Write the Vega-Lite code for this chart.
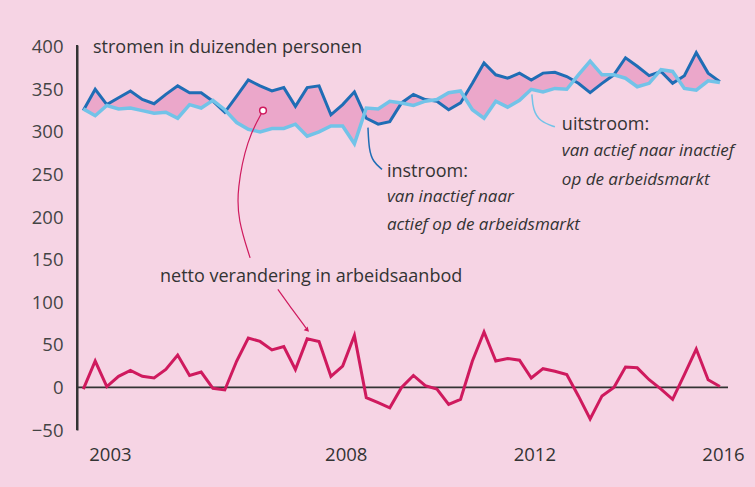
{
  "$schema": "https://vega.github.io/schema/vega-lite/v6.json",
  "width": 651,
  "height": 385,
  "autosize": {"type": "none"},
  "padding": {"left": 77, "top": 45, "right": 27, "bottom": 57},
  "background": "#F6D4E4",
  "config": {"view": {"stroke": null}, "font": "Open Sans"},
  "datasets": {
    "flows": [
      {"d": "2002-10-01", "instroom": 325, "uitstroom": 327, "netto": -2},
      {"d": "2003-01-01", "instroom": 350, "uitstroom": 319, "netto": 31},
      {"d": "2003-04-01", "instroom": 332, "uitstroom": 331, "netto": 1},
      {"d": "2003-07-01", "instroom": 340, "uitstroom": 327, "netto": 13},
      {"d": "2003-10-01", "instroom": 348, "uitstroom": 328, "netto": 20},
      {"d": "2004-01-01", "instroom": 338, "uitstroom": 325, "netto": 13},
      {"d": "2004-04-01", "instroom": 333, "uitstroom": 322, "netto": 11},
      {"d": "2004-07-01", "instroom": 344, "uitstroom": 323, "netto": 21},
      {"d": "2004-10-01", "instroom": 354, "uitstroom": 316, "netto": 38},
      {"d": "2005-01-01", "instroom": 346, "uitstroom": 332, "netto": 14},
      {"d": "2005-04-01", "instroom": 346, "uitstroom": 328, "netto": 18},
      {"d": "2005-07-01", "instroom": 336, "uitstroom": 337, "netto": -1},
      {"d": "2005-10-01", "instroom": 323, "uitstroom": 326, "netto": -3},
      {"d": "2006-01-01", "instroom": 342, "uitstroom": 311, "netto": 31},
      {"d": "2006-04-01", "instroom": 361, "uitstroom": 303, "netto": 58},
      {"d": "2006-07-01", "instroom": 354, "uitstroom": 300, "netto": 54},
      {"d": "2006-10-01", "instroom": 348, "uitstroom": 304, "netto": 44},
      {"d": "2007-01-01", "instroom": 352, "uitstroom": 304, "netto": 48},
      {"d": "2007-04-01", "instroom": 330, "uitstroom": 309, "netto": 21},
      {"d": "2007-07-01", "instroom": 352, "uitstroom": 295, "netto": 57},
      {"d": "2007-10-01", "instroom": 354, "uitstroom": 300, "netto": 54},
      {"d": "2008-01-01", "instroom": 320, "uitstroom": 307, "netto": 13},
      {"d": "2008-04-01", "instroom": 332, "uitstroom": 307, "netto": 25},
      {"d": "2008-07-01", "instroom": 347, "uitstroom": 286, "netto": 61},
      {"d": "2008-10-01", "instroom": 316, "uitstroom": 328, "netto": -12},
      {"d": "2009-01-01", "instroom": 309, "uitstroom": 327, "netto": -18},
      {"d": "2009-04-01", "instroom": 312, "uitstroom": 336, "netto": -24},
      {"d": "2009-07-01", "instroom": 334, "uitstroom": 334, "netto": 0},
      {"d": "2009-10-01", "instroom": 344, "uitstroom": 331, "netto": 14},
      {"d": "2010-01-01", "instroom": 338, "uitstroom": 336, "netto": 2},
      {"d": "2010-04-01", "instroom": 336, "uitstroom": 338, "netto": -2},
      {"d": "2010-07-01", "instroom": 326, "uitstroom": 346, "netto": -20},
      {"d": "2010-10-01", "instroom": 334, "uitstroom": 348, "netto": -14},
      {"d": "2011-01-01", "instroom": 357, "uitstroom": 326, "netto": 31},
      {"d": "2011-04-01", "instroom": 381, "uitstroom": 316, "netto": 65},
      {"d": "2011-07-01", "instroom": 367, "uitstroom": 336, "netto": 31},
      {"d": "2011-10-01", "instroom": 363, "uitstroom": 329, "netto": 34},
      {"d": "2012-01-01", "instroom": 369, "uitstroom": 337, "netto": 32},
      {"d": "2012-04-01", "instroom": 361, "uitstroom": 350, "netto": 11},
      {"d": "2012-07-01", "instroom": 369, "uitstroom": 347, "netto": 22},
      {"d": "2012-10-01", "instroom": 370, "uitstroom": 351, "netto": 19},
      {"d": "2013-01-01", "instroom": 365, "uitstroom": 350, "netto": 15},
      {"d": "2013-04-01", "instroom": 357, "uitstroom": 367, "netto": -10},
      {"d": "2013-07-01", "instroom": 346, "uitstroom": 383, "netto": -37},
      {"d": "2013-10-01", "instroom": 357, "uitstroom": 367, "netto": -10},
      {"d": "2014-01-01", "instroom": 367, "uitstroom": 367, "netto": 0},
      {"d": "2014-04-01", "instroom": 387, "uitstroom": 363, "netto": 24},
      {"d": "2014-07-01", "instroom": 377, "uitstroom": 353, "netto": 23},
      {"d": "2014-10-01", "instroom": 366, "uitstroom": 357, "netto": 9},
      {"d": "2015-01-01", "instroom": 371, "uitstroom": 373, "netto": -2},
      {"d": "2015-04-01", "instroom": 357, "uitstroom": 371, "netto": -14},
      {"d": "2015-07-01", "instroom": 366, "uitstroom": 351, "netto": 15},
      {"d": "2015-10-01", "instroom": 393, "uitstroom": 349, "netto": 45},
      {"d": "2016-01-01", "instroom": 369, "uitstroom": 360, "netto": 9},
      {"d": "2016-04-01", "instroom": 359, "uitstroom": 358, "netto": 1}
    ],
    "guides": [
      {"g": "zero", "d": "2002-08-13", "v": 0},
      {"g": "zero", "d": "2009-07-01", "v": 0.02},
      {"g": "zero", "d": "2016-06-03", "v": 0},
      {"g": "axis", "d": "2002-08-13", "v": -50},
      {"g": "axis", "d": "2002-08-14", "v": 200},
      {"g": "axis", "d": "2002-08-13", "v": 402}
    ],
    "connectors": [
      {"c": "in", "d": "2008-10-14", "v": 305},
      {"c": "in", "d": "2008-10-22", "v": 279},
      {"c": "in", "d": "2008-11-22", "v": 265},
      {"c": "in", "d": "2009-01-31", "v": 256},
      {"c": "uit", "d": "2012-04-06", "v": 344},
      {"c": "uit", "d": "2012-04-14", "v": 326},
      {"c": "uit", "d": "2012-06-07", "v": 312},
      {"c": "uit", "d": "2012-10-01", "v": 306},
      {"c": "netto1", "d": "2006-07-24", "v": 325},
      {"c": "netto1", "d": "2006-03-21", "v": 291},
      {"c": "netto1", "d": "2006-01-04", "v": 232},
      {"c": "netto1", "d": "2006-01-11", "v": 197},
      {"c": "netto1", "d": "2006-04-15", "v": 152},
      {"c": "netto2", "d": "2006-11-16", "v": 115},
      {"c": "netto2", "d": "2007-03-05", "v": 92},
      {"c": "netto2", "d": "2007-06-21", "v": 70}
    ],
    "notes": [
      {"d": "2002-12-15", "v": 399, "text": "stromen in duizenden personen"},
      {"d": "2004-05-17", "v": 130, "text": "netto verandering in arbeidsaanbod"},
      {"d": "2009-03-10", "v": 253, "text": "instroom:"},
      {"d": "2012-11-24", "v": 308, "text": "uitstroom:"}
    ],
    "italics": [
      {"d": "2009-03-10", "v": 223, "text": "van inactief naar"},
      {"d": "2009-03-10", "v": 191, "text": "actief op de arbeidsmarkt"},
      {"d": "2012-11-24", "v": 278, "text": "van actief naar inactief"},
      {"d": "2012-11-24", "v": 244, "text": "op de arbeidsmarkt"}
    ]
  },
  "layer": [
    {
      "data": {"name": "flows"},
      "mark": {"type": "area", "color": "#EBA7CA", "opacity": 1},
      "encoding": {
        "x": {
          "field": "d", "type": "temporal", "title": null,
          "scale": {"domain": [{"year": 2002, "month": 8, "date": 13, "utc": true}, {"year": 2016, "month": 6, "date": 3, "utc": true}]},
          "axis": {
            "values": [
              {"year": 2003, "month": 4, "date": 25, "utc": true},
              {"year": 2008, "month": 4, "date": 25, "utc": true},
              {"year": 2012, "month": 4, "date": 25, "utc": true},
              {"year": 2016, "month": 4, "date": 25, "utc": true}
            ],
            "format": "%Y", "ticks": false, "domain": false, "grid": false,
            "labelPadding": 15, "labelFontSize": 18.5, "labelColor": "#333333",
            "labelFlush": false, "labelOverlap": false, "labelFont": "Open Sans"
          }
        },
        "y": {
          "field": "instroom", "type": "quantitative", "title": null,
          "scale": {"domain": [-50, 402], "nice": false, "zero": false},
          "axis": {
            "values": [-50, 0, 50, 100, 150, 200, 250, 300, 350, 400],
            "ticks": false, "grid": false, "domain": true,
            "domainColor": "#333333", "domainWidth": 2,
            "labelPadding": 14,
            "labelFontSize": 18.5, "labelColor": "#444444", "labelFont": "Open Sans"
          }
        },
        "y2": {"field": "uitstroom"}
      }
    },
    {
      "data": {"name": "guides"},
      "transform": [{"filter": "datum.g === 'axis'"}],
      "mark": {"type": "line", "stroke": "#333333", "strokeWidth": 2},
      "encoding": {
        "x": {"field": "d", "type": "temporal", "title": null},
        "y": {"field": "v", "type": "quantitative", "title": null},
        "order": {"value": null}
      }
    },
    {
      "data": {"name": "guides"},
      "transform": [{"filter": "datum.g === 'zero'"}],
      "mark": {"type": "line", "stroke": "#333333", "strokeWidth": 1.8},
      "encoding": {
        "x": {"field": "d", "type": "temporal", "title": null},
        "y": {"field": "v", "type": "quantitative", "title": null}
      }
    },
    {
      "data": {"name": "flows"},
      "mark": {"type": "line", "color": "#1F6DB5", "strokeWidth": 3, "strokeJoin": "miter"},
      "encoding": {
        "x": {"field": "d", "type": "temporal", "title": null},
        "y": {"field": "instroom", "type": "quantitative", "title": null}
      }
    },
    {
      "data": {"name": "flows"},
      "mark": {"type": "line", "color": "#72C3E8", "strokeWidth": 3.5, "strokeJoin": "miter"},
      "encoding": {
        "x": {"field": "d", "type": "temporal", "title": null},
        "y": {"field": "uitstroom", "type": "quantitative", "title": null}
      }
    },
    {
      "data": {"name": "flows"},
      "mark": {"type": "line", "color": "#CF1A5E", "strokeWidth": 3},
      "encoding": {
        "x": {"field": "d", "type": "temporal", "title": null},
        "y": {"field": "netto", "type": "quantitative", "title": null}
      }
    },
    {
      "data": {"name": "connectors"},
      "transform": [{"filter": "datum.c === 'in'"}],
      "mark": {"type": "line", "color": "#1F6DB5", "strokeWidth": 1.5, "interpolate": "basis"},
      "encoding": {
        "x": {"field": "d", "type": "temporal", "title": null},
        "y": {"field": "v", "type": "quantitative", "title": null},
        "order": {"value": null}
      }
    },
    {
      "data": {"name": "connectors"},
      "transform": [{"filter": "datum.c === 'uit'"}],
      "mark": {"type": "line", "color": "#72C3E8", "strokeWidth": 1.5, "interpolate": "basis"},
      "encoding": {
        "x": {"field": "d", "type": "temporal", "title": null},
        "y": {"field": "v", "type": "quantitative", "title": null},
        "order": {"value": null}
      }
    },
    {
      "data": {"name": "connectors"},
      "transform": [{"filter": "datum.c === 'netto1' || datum.c === 'netto2'"}],
      "mark": {"type": "line", "color": "#CF1A5E", "strokeWidth": 1.2, "interpolate": "basis"},
      "encoding": {
        "x": {"field": "d", "type": "temporal", "title": null},
        "y": {"field": "v", "type": "quantitative", "title": null},
        "detail": {"field": "c"},
        "order": {"value": null}
      }
    },
    {
      "data": {"values": [{}]},
      "mark": {"type": "point", "shape": "circle", "filled": true, "fill": "white", "stroke": "#CF1A5E", "strokeWidth": 1.5, "size": 45, "opacity": 1},
      "encoding": {
        "x": {"datum": {"year": 2006, "month": 7, "date": 24, "utc": true}, "type": "temporal"},
        "y": {"datum": 325, "type": "quantitative"}
      }
    },
    {
      "data": {"values": [{}]},
      "mark": {"type": "point", "shape": "triangle", "filled": true, "color": "#CF1A5E", "size": 30, "angle": 135, "opacity": 1},
      "encoding": {
        "x": {"datum": {"year": 2007, "month": 6, "date": 28, "utc": true}, "type": "temporal"},
        "y": {"datum": 68, "type": "quantitative"}
      }
    },
    {
      "data": {"name": "notes"},
      "mark": {"type": "text", "align": "left", "baseline": "middle", "fontSize": 18, "color": "#333333", "font": "Open Sans"},
      "encoding": {
        "x": {"field": "d", "type": "temporal", "title": null},
        "y": {"field": "v", "type": "quantitative", "title": null},
        "text": {"field": "text"}
      }
    },
    {
      "data": {"name": "italics"},
      "mark": {"type": "text", "align": "left", "baseline": "middle", "fontSize": 17, "fontStyle": "italic", "color": "#333333", "font": "Open Sans"},
      "encoding": {
        "x": {"field": "d", "type": "temporal", "title": null},
        "y": {"field": "v", "type": "quantitative", "title": null},
        "text": {"field": "text"}
      }
    }
  ]
}
